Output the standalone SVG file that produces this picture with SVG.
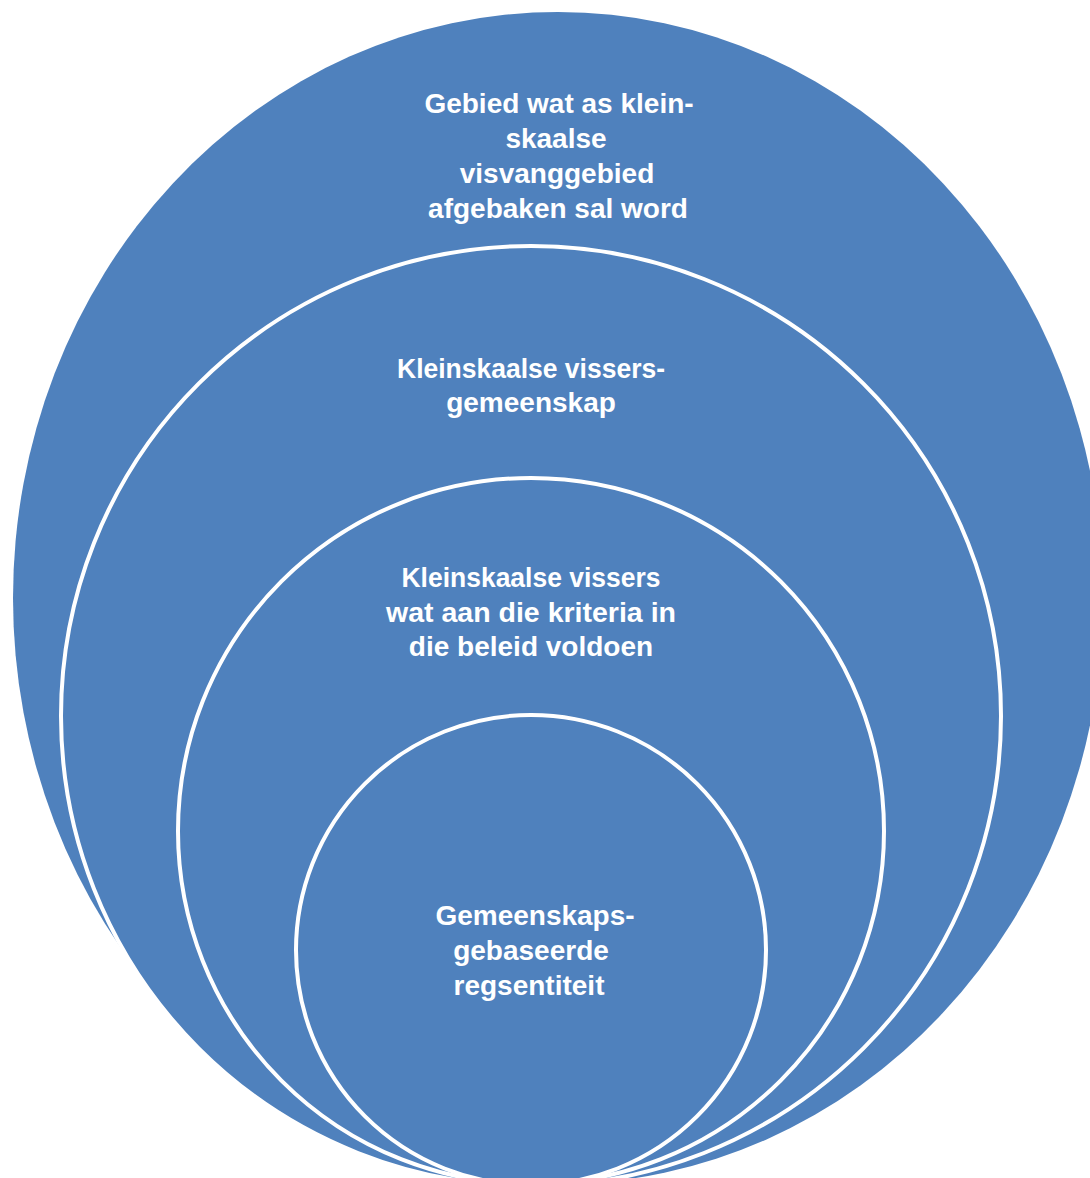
<svg xmlns="http://www.w3.org/2000/svg" width="1090" height="1178" viewBox="0 0 1090 1178">
<style>
.ring{fill:#4F81BD;stroke:#FFFFFF;stroke-width:4}
.lbl{fill:#FFFFFF;font-family:"Liberation Sans",Arial,sans-serif;font-weight:bold;font-size:28px;text-anchor:middle}
</style>
<rect width="1090" height="1178" fill="#FFFFFF"/>
<g id="node-area">
<ellipse cx="558" cy="598" rx="545" ry="586" fill="#4F81BD"/>
<text class="lbl" x="559" y="113">Gebied wat as klein-</text>
<text class="lbl" x="556" y="148">skaalse</text>
<text class="lbl" x="557" y="183">visvanggebied</text>
<text class="lbl" x="558" y="218">afgebaken sal word</text>
</g>
<g id="node-community">
<circle class="ring" cx="531" cy="716" r="470"/>
<text class="lbl" x="531" y="378" textLength="268" lengthAdjust="spacingAndGlyphs">Kleinskaalse vissers-</text>
<text class="lbl" x="531" y="412">gemeenskap</text>
</g>
<g id="node-fishers">
<circle class="ring" cx="531" cy="831" r="353"/>
<text class="lbl" x="531" y="587" textLength="259" lengthAdjust="spacingAndGlyphs">Kleinskaalse vissers</text>
<text class="lbl" x="531" y="622" textLength="290" lengthAdjust="spacingAndGlyphs">wat aan die kriteria in</text>
<text class="lbl" x="531" y="656">die beleid voldoen</text>
</g>
<g id="node-entity">
<circle class="ring" cx="531" cy="950" r="235"/>
<text class="lbl" x="535" y="925">Gemeenskaps-</text>
<text class="lbl" x="531" y="960">gebaseerde</text>
<text class="lbl" x="529" y="995">regsentiteit</text>
</g>
<g id="connectors"></g>
</svg>
